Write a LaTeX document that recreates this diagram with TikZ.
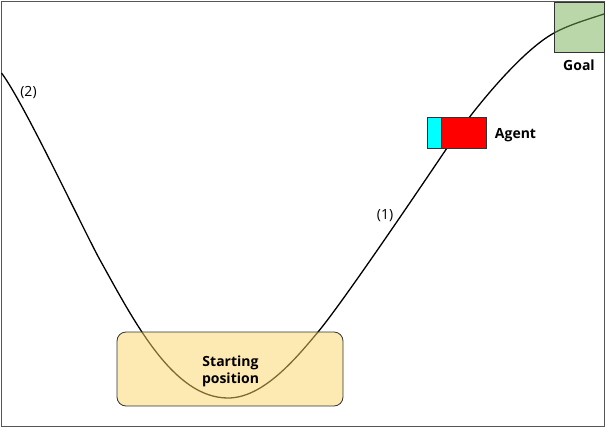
\documentclass[tikz,border=0pt]{standalone}
\usepackage{fontspec}
\setmainfont{Open Sans}
\definecolor{framegray}{HTML}{555555}
\definecolor{startfill}{RGB}{251,213,101}
\definecolor{goalfill}{RGB}{115,175,81}
\definecolor{agentcyan}{RGB}{0,255,255}
\definecolor{agentred}{RGB}{255,0,0}
\begin{document}
\begin{tikzpicture}[x=1pt,y=-1pt,
  lbl/.style={font=\fontsize{14}{17}\selectfont, inner sep=0pt},
  blbl/.style={font=\fontsize{14}{17}\selectfont\bfseries, inner sep=0pt, align=center},
  zone/.style={draw=black!80, line width=0.8pt, fill opacity=0.5, text opacity=1},
  agentpart/.style={draw=black!80, line width=0.8pt, minimum height=31pt, inner sep=0pt},
]
\useasboundingbox (0,0) rectangle (606,429);
\draw[framegray, line width=1pt] (1.5,1.5) rectangle (604,426.5);
% curve
\coordinate (c0) at (1.5,73);
\coordinate (c1) at (100,260);
\coordinate (c2) at (228,398);
\coordinate (c3) at (318,332);
\coordinate (c4) at (447,148);
\coordinate (c5) at (554,33);
\coordinate (c6) at (604,14);
\draw[line width=1.3pt, black]
  (c0) .. controls (23,101) and (83,229) .. (c1)
       .. controls (134,321) and (173,398) .. (c2)
       .. controls (263,398) and (295.6,358.9) .. (c3)
       .. controls (343.6,301.3) and (424.6,181.2) .. (c4)
       .. controls (469.4,114.8) and (519,52.3) .. (c5)
       .. controls (568.9,24.8) and (587.9,19.3) .. (c6);
% starting position
\node[zone, fill=startfill, rounded corners=9pt, minimum width=226pt, minimum height=74pt] (start) at (230,369) {};
\node[blbl, anchor=base] (starttxt) at (230.5,383) {Starting\\position};
% goal
\node[zone, fill=goalfill, minimum width=50pt, minimum height=50pt, inner sep=0pt] (goal) at (579,27) {};
\node[blbl, anchor=base] (goaltxt) at (579,70) {Goal};
% agent
\node[agentpart, fill=agentcyan, minimum width=14pt] (agentback) at (434,132.5) {};
\node[agentpart, fill=agentred, minimum width=45pt] (agentbody) at (463.5,132.5) {};
\node[blbl, anchor=base] (agenttxt) at (515.5,138) {Agent};
% labels
\node[lbl] (l1) at (385,216) {(1)};
\node[lbl] (l2) at (28.5,92.5) {(2)};
\end{tikzpicture}
\end{document}
